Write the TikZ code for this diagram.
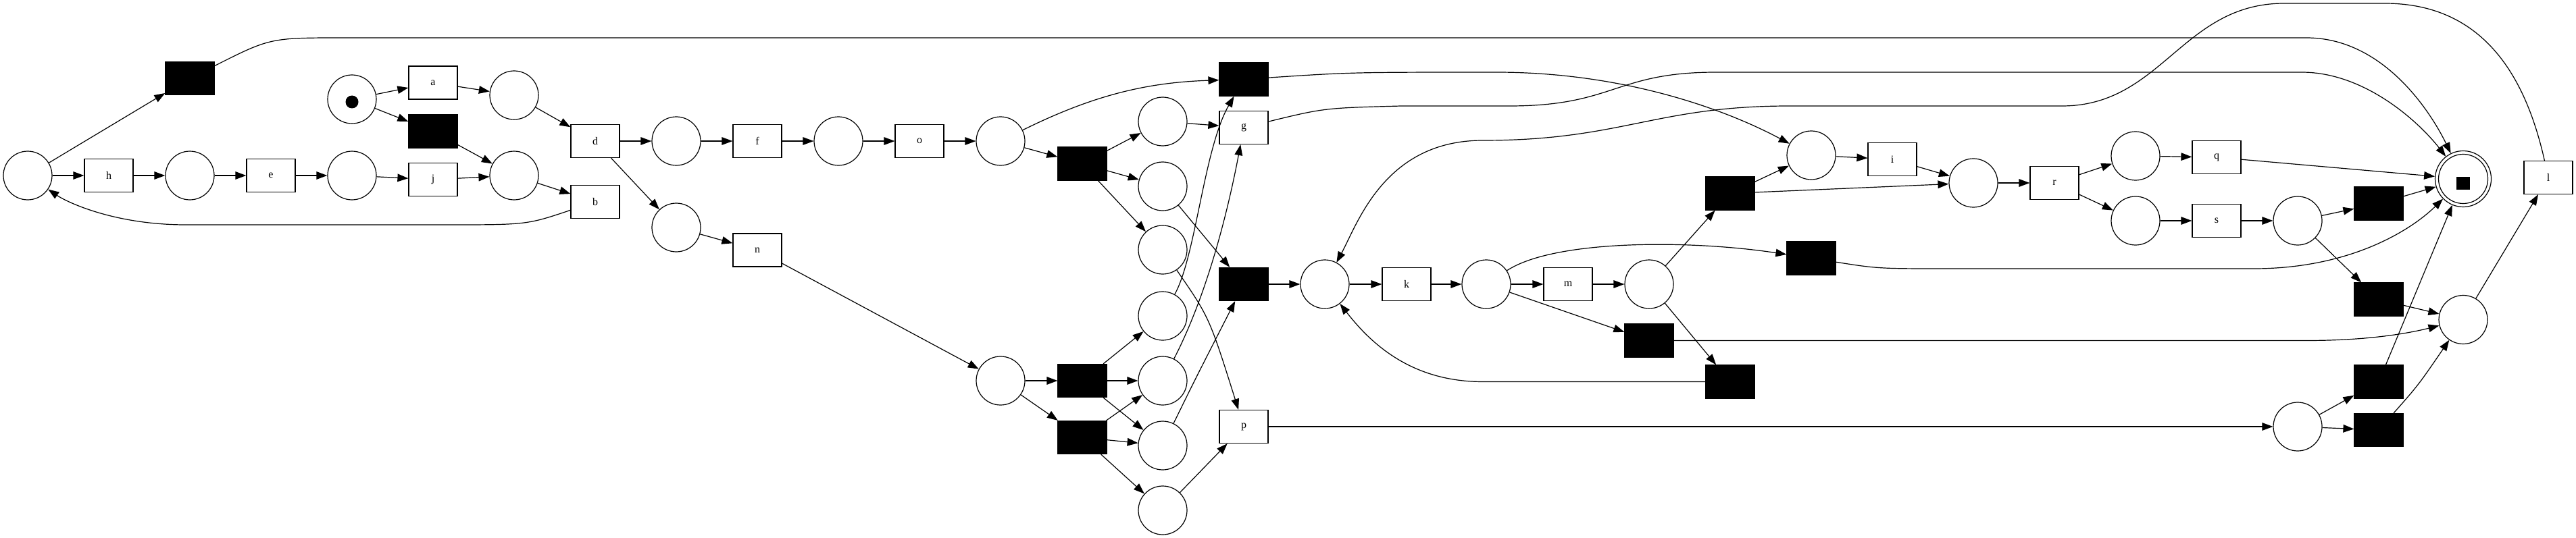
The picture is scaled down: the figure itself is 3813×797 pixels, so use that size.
\documentclass[tikz,border=0pt]{standalone}
\usepackage{fontspec}
\setmainfont{Liberation Serif}
\usetikzlibrary{arrows.meta}
\begin{document}
\begin{tikzpicture}[x=0.5pt,y=-0.5pt,
  place/.style={circle,draw,line width=0.6pt,minimum size=36pt,inner sep=0pt},
  trans/.style={rectangle,draw,line width=0.6pt,minimum width=36pt,minimum height=24.5pt,inner sep=0pt,font=\fontsize{8}{9}\selectfont},
  silent/.style={trans,fill=black},
  arc/.style={draw,line width=0.6pt,-{Triangle[length=8pt,width=5.8pt]}}
]
\fill[white] (0,0) rectangle (3813,797);
\useasboundingbox (0,0) rectangle (3813,797);

% places
\node[place] (pL) at (41,260) {};
\node[place] (P2) at (281,260) {};
\node[place] (P3) at (521,260) {};
\node[place] (P4) at (761,260) {};
\node[place] (P0) at (521,147) {};
\node[circle,fill=black,inner sep=0pt,minimum size=9.5pt] (tok) at (521,151) {};
\node[place] (P5) at (761,141) {};
\node[place] (P6) at (1001,209) {};
\node[place] (P7) at (1241,209) {};
\node[place] (P8) at (1481,209) {};
\node[place] (P9) at (1721,180) {};
\node[place] (P10) at (1721,276) {};
\node[place] (P11) at (1721,370) {};
\node[place] (Pn) at (1001,337) {};
\node[place] (Pm) at (1481,564) {};
\node[place] (P12) at (1721,468) {};
\node[place] (P13) at (1721,564) {};
\node[place] (P14) at (1721,660) {};
\node[place] (P15) at (1721,756) {};
\node[place] (Pk) at (1961,421) {};
\node[place] (Pk2) at (2200,421) {};
\node[place] (Pmm) at (2441,421) {};
\node[place] (Pi) at (2681,230) {};
\node[place] (Pr) at (2921,271) {};
\node[place] (Pq) at (3161,231) {};
\node[place] (Ps) at (3161,327) {};
\node[place] (Ps2) at (3401,327) {};
\node[place] (Pz) at (3646,473.5) {};
\node[place] (Py) at (3401,632) {};
\node[circle,draw,line width=0.6pt,minimum size=41.5pt,inner sep=0pt] (fin) at (3646,265) {};
\node[circle,draw,line width=0.6pt,minimum size=36.5pt,inner sep=0pt] (fininner) at (3646,265) {};
\node[rectangle,fill=black,inner sep=0pt,minimum size=9.8pt] (finsq) at (3646,271.3) {};

% transitions
\node[silent] (t1) at (281,116) {};
\node[trans] (h) at (161,260) {h};
\node[trans] (e) at (401,260) {e};
\node[trans] (j) at (641,266) {j};
\node[trans] (a) at (641,122.5) {a};
\node[silent] (t2) at (641,194.5) {};
\node[trans] (d) at (881,209) {d};
\node[trans] (b) at (881,299) {b};
\node[trans] (f) at (1121,209) {f};
\node[trans] (o) at (1361,209) {o};
\node[silent] (t3) at (1602,242.5) {};
\node[silent] (t4) at (1841,117.5) {};
\node[trans] (g) at (1841,189) {g};
\node[trans] (n) at (1121,370.5) {n};
\node[silent] (t6) at (1602,564) {};
\node[silent] (t7) at (1602,648) {};
\node[trans] (p) at (1841,632) {p};
\node[silent] (t5) at (1841,421) {};
\node[trans] (k) at (2082,421) {k};
\node[trans] (m) at (2321,421) {m};
\node[silent] (t10) at (2441,504.5) {};
\node[silent] (t11) at (2561,565.5) {};
\node[silent] (t8) at (2561,286.5) {};
\node[silent] (t9) at (2681,382.5) {};
\node[trans] (i) at (2801,236) {i};
\node[trans] (r) at (3041,271) {r};
\node[trans] (q) at (3281,233) {q};
\node[trans] (s) at (3281,327) {s};
\node[silent] (t12) at (3521,301.5) {};
\node[trans] (l) at (3772,263) {l};
\node[silent] (t13) at (3521,443.5) {};
\node[silent] (t14) at (3521,565.5) {};
\node[silent] (t15) at (3521,637) {};

% arcs
\draw[arc] (pL) -- (h);
\draw[arc] (h) -- (P2);
\draw[arc] (P2) -- (e);
\draw[arc] (e) -- (P3);
\draw[arc] (P3) -- (j);
\draw[arc] (j) -- (P4);
\draw[arc] (pL) -- (t1);
\draw[arc] (P0) -- (a);
\draw[arc] (P0) -- (t2);
\draw[arc] (a) -- (P5);
\draw[arc] (t2) -- (P4);
\draw[arc] (P5) -- (d);
\draw[arc] (P4) -- (b);
\draw[arc] (d) -- (P6);
\draw[arc] (d) -- (Pn);
\draw[arc] (P6) -- (f);
\draw[arc] (f) -- (P7);
\draw[arc] (P7) -- (o);
\draw[arc] (o) -- (P8);
\draw[arc] (P8) -- (t3);
\draw[arc] (P8) .. controls (1620,140) and (1700,122) .. (t4);
\draw[arc] (t3) -- (P9);
\draw[arc] (t3) -- (P10);
\draw[arc] (t3) -- (P11);
\draw[arc] (P9) -- (g);
\draw[arc] (Pn) -- (n);
\draw[arc] (n) -- (Pm);
\draw[arc] (Pm) -- (t6);
\draw[arc] (Pm) -- (t7);
\draw[arc] (t6) -- (P12);
\draw[arc] (t6) -- (P13);
\draw[arc] (t6) -- (P14);
\draw[arc] (t7) -- (P13);
\draw[arc] (t7) -- (P14);
\draw[arc] (t7) -- (P15);
\draw[arc] (P12) .. controls (1770,380) and (1782,220) .. (t4);
\draw[arc] (P13) .. controls (1790,430) and (1820,300) .. (g);
\draw[arc] (P14) .. controls (1770,560) .. (t5);
\draw[arc] (P11) .. controls (1790,470) .. (p);
\draw[arc] (P10) -- (t5);
\draw[arc] (P15) -- (p);
\draw[arc] (t5) -- (Pk);
\draw[arc] (Pk) -- (k);
\draw[arc] (k) -- (Pk2);
\draw[arc] (Pk2) -- (m);
\draw[arc] (m) -- (Pmm);
\draw[arc] (Pk2) .. controls (2300,355) and (2500,355) .. (t9);
\draw[arc] (Pk2) -- (t10);
\draw[arc] (Pmm) -- (t8);
\draw[arc] (Pmm) -- (t11);
\draw[arc] (t8) -- (Pi);
\draw[arc] (t8) -- (Pr);
\draw[arc] (t4) .. controls (2000,107) .. (2215,107) .. controls (2400,107) and (2550,160) .. (Pi);
\draw[arc] (Pi) -- (i);
\draw[arc] (i) -- (Pr);
\draw[arc] (Pr) -- (r);
\draw[arc] (r) -- (Pq);
\draw[arc] (r) -- (Ps);
\draw[arc] (Pq) -- (q);
\draw[arc] (Ps) -- (s);
\draw[arc] (s) -- (Ps2);
\draw[arc] (q) -- (fin);
\draw[arc] (Ps2) -- (t12);
\draw[arc] (t12) -- (fin);
\draw[arc] (Ps2) -- (t13);
\draw[arc] (t13) -- (Pz);
\draw[arc] (Pz) -- (l);
\draw[arc] (p) -- (Py);
\draw[arc] (Py) -- (t14);
\draw[arc] (Py) -- (t15);
\draw[arc] (t14) -- (fin);
\draw[arc] (t15) .. controls (3580,570) .. (Pz);
\draw[arc] (t10) -- (3414,504.5) .. controls (3500,504.5) and (3560,495) .. (Pz);
\draw[arc] (t9) .. controls (2780,398) .. (2884,398) -- (3336,398) .. controls (3480,398) and (3570,340) .. (fin);
\draw[arc] (t11) -- (2195,565.5) .. controls (2090,565.5) and (2030,510) .. (Pk);
\draw[arc] (l) .. controls (3740,120) and (3680,5) .. (3530,5) -- (3381,5) .. controls (3230,5) and (3200,157) .. (3052,157) -- (2648,157) .. controls (2450,157) and (2400,208) .. (2195,208) .. controls (2050,208) and (2010,330) .. (Pk);
\draw[arc] (g) .. controls (1960,160) .. (2074,157) -- (2234,157) .. controls (2390,157) and (2390,107) .. (2540,107) -- (3407,107) .. controls (3500,107) and (3580,180) .. (fin);
\draw[arc] (t1) .. controls (400,56) .. (508,56) -- (3414,56) .. controls (3530,56) and (3600,170) .. (fin);
\draw[arc] (b) .. controls (780,333) .. (661,333) -- (275,333) .. controls (170,333) and (100,300) .. (pL);
\end{tikzpicture}
\end{document}
